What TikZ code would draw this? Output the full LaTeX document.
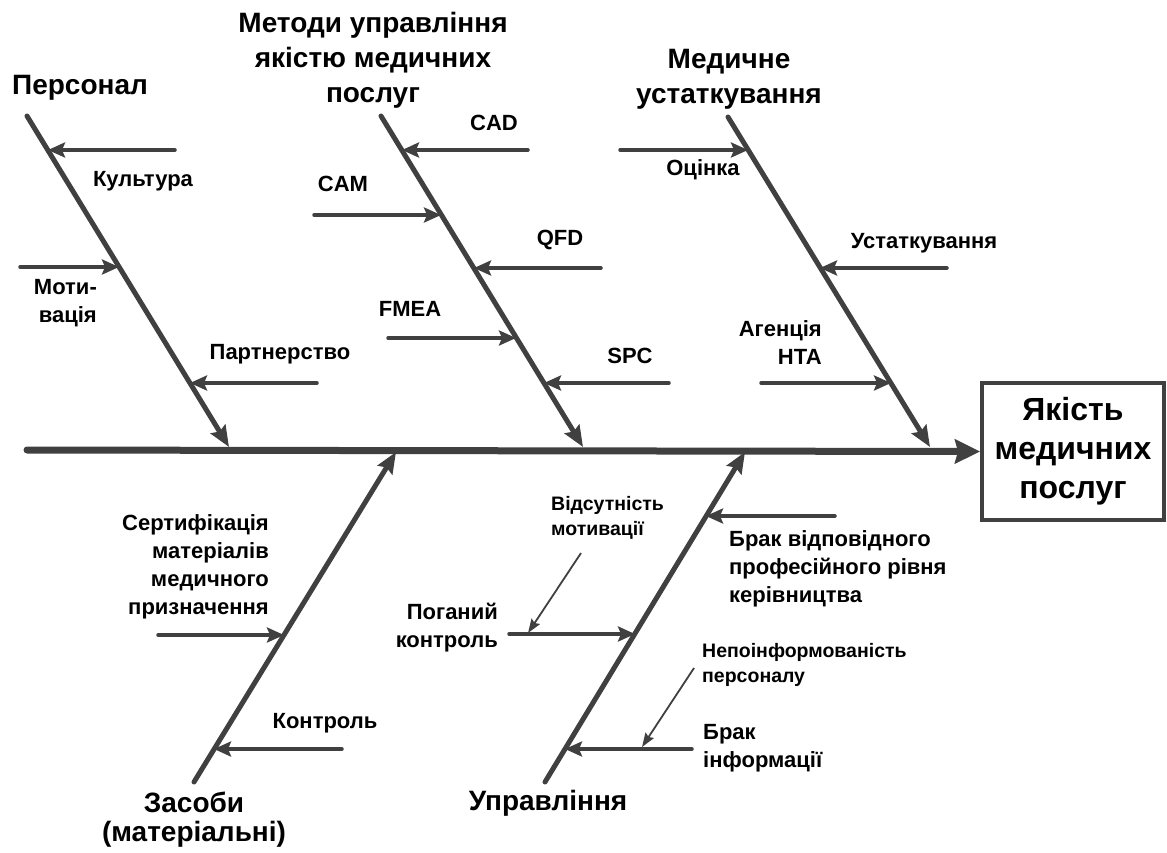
\documentclass[tikz,border=0pt]{standalone}
\usepackage{fontspec}
\setmainfont{Liberation Sans}
\usetikzlibrary{arrows.meta}
\definecolor{fishgray}{RGB}{64,64,64}

\begin{document}
\begin{tikzpicture}[x=1pt,y=-1pt,
	bone/.style={fishgray, line width=5pt, line cap=round, -{Stealth[length=21pt,width=17pt,inset=3pt]}},
	twig/.style={fishgray, line width=3.5pt, line cap=round, -{Stealth[length=17pt,width=15pt,inset=3pt]}},
	hint/.style={fishgray, line width=1.8pt, -{Stealth[length=14pt,width=10pt,inset=2pt]}},
	lbl/.style={font=\fontsize{22}{28}\selectfont\bfseries, inner sep=0pt},
	smalllbl/.style={font=\fontsize{19.5}{25}\selectfont\bfseries, inner sep=0pt},
	head/.style={font=\fontsize{28}{35}\selectfont\bfseries, inner sep=0pt, align=center}]
	\useasboundingbox (0,0) rectangle (1167,852);
	% effect and spine
	\node[draw=fishgray, line width=4pt, minimum width=182pt, minimum height=137pt, anchor=north west,
		align=center, font=\fontsize{32}{39}\selectfont\bfseries] (effect) at (980,381) {Якість\\медичних\\послуг};
	\coordinate (tail) at (27,450);
	\draw[fishgray, line width=7pt, line cap=round, -{Stealth[length=25pt,width=24pt,inset=3pt]}] (tail) -- (effect.west);
	% upper bones
	\coordinate (pers0) at (27,116);   \coordinate (pers1) at (229,447);
	\coordinate (meth0) at (381,116);  \coordinate (meth1) at (583,447);
	\coordinate (equip0) at (728,117); \coordinate (equip1) at (930,447);
	\draw[bone] (pers0) -- (pers1);
	\draw[bone] (meth0) -- (meth1);
	\draw[bone] (equip0) -- (equip1);
	% lower bones
	\coordinate (means0) at (194,782); \coordinate (means1) at (396,452);
	\coordinate (mgmt0) at (545,782);  \coordinate (mgmt1) at (745,452);
	\draw[bone] (means0) -- (means1);
	\draw[bone] (mgmt0) -- (mgmt1);
	% headings
	\node[head] (pers) at (80,88) {Персонал};
	\node[head] (meth) at (373,60) {Методи управління\\якістю медичних\\послуг};
	\node[head] (equip) at (729,79) {Медичне\\устаткування};
	\node[head, font=\fontsize{28}{29}\selectfont\bfseries] (means) at (194,820) {Засоби\\(матеріальні)};
	\node[head] (mgmt) at (548,803) {Управління};
	% personnel
	\coordinate (cult0) at (175,150);  \coordinate (cult1) at (48,150);
	\coordinate (motiv0) at (20,267);  \coordinate (motiv1) at (119,267);
	\coordinate (partn0) at (317,383); \coordinate (partn1) at (190,383);
	\draw[twig] (cult0) -- (cult1);
	\draw[twig] (motiv0) -- (motiv1);
	\draw[twig] (partn0) -- (partn1);
	\node[lbl] (cult) at (143,181) {Культура};
	\node[lbl, align=right, anchor=east] (motiv) at (97,303) {Моти-\\вація};
	\node[lbl] (partn) at (280,354) {Партнерство};
	% methods
	\coordinate (cad0) at (528,150);  \coordinate (cad1) at (402,150);
	\coordinate (cam0) at (314,215);  \coordinate (cam1) at (441,215);
	\coordinate (qfd0) at (601,268);  \coordinate (qfd1) at (474,268);
	\coordinate (fmea0) at (388,338); \coordinate (fmea1) at (516,338);
	\coordinate (spc0) at (669,383);  \coordinate (spc1) at (544,383);
	\draw[twig] (cad0) -- (cad1);
	\draw[twig] (cam0) -- (cam1);
	\draw[twig] (qfd0) -- (qfd1);
	\draw[twig] (fmea0) -- (fmea1);
	\draw[twig] (spc0) -- (spc1);
	\node[lbl] (cad) at (494,123) {CAD};
	\node[lbl] (cam) at (343,184) {CAM};
	\node[lbl] (qfd) at (560,240) {QFD};
	\node[lbl] (fmea) at (410,309) {FMEA};
	\node[lbl] (spc) at (630,356) {SPC};
	% equipment
	\coordinate (eval0) at (620,150);  \coordinate (eval1) at (748,150);
	\coordinate (inst0) at (947,268);  \coordinate (inst1) at (820,268);
	\coordinate (hta0) at (761,383);   \coordinate (hta1) at (891,383);
	\draw[twig] (eval0) -- (eval1);
	\draw[twig] (inst0) -- (inst1);
	\draw[twig] (hta0) -- (hta1);
	\node[lbl] (eval) at (703,170) {Оцінка};
	\node[lbl] (inst) at (924,243) {Устаткування};
	\node[lbl, align=right, anchor=east] (hta) at (822,343) {Агенція\\НТА};
	% means
	\coordinate (cert0) at (158,635); \coordinate (cert1) at (284,635);
	\coordinate (ctrl0) at (342,749); \coordinate (ctrl1) at (214,749);
	\draw[twig] (cert0) -- (cert1);
	\draw[twig] (ctrl0) -- (ctrl1);
	\node[lbl, align=right, anchor=east] (cert) at (269,567) {Сертифікація\\матеріалів\\медичного\\призначення};
	\node[lbl] (ctrl) at (325,723) {Контроль};
	% management
	\coordinate (lack0) at (835,516); \coordinate (lack1) at (706,516);
	\coordinate (poor0) at (509,634); \coordinate (poor1) at (635,634);
	\coordinate (info0) at (692,749); \coordinate (info1) at (565,749);
	\draw[twig] (lack0) -- (lack1);
	\draw[twig] (poor0) -- (poor1);
	\draw[twig] (info0) -- (info1);
	\node[lbl, align=left, anchor=west] (lack) at (729,569) {Брак відповідного\\професійного рівня\\керівництва};
	\node[lbl, align=right, anchor=east] (poor) at (498,628) {Поганий\\контроль};
	\node[lbl, align=left, anchor=west] (info) at (703,748) {Брак\\інформації};
	\node[smalllbl, align=left, anchor=west] (nomot) at (551,518) {Відсутність\\мотивації};
	\node[smalllbl, align=left, anchor=west] (uninf) at (702,665) {Непоінформованість\\персоналу};
	\coordinate (nomot0) at (581,553); \coordinate (nomot1) at (528,633);
	\coordinate (uninf0) at (694,668); \coordinate (uninf1) at (642,747);
	\draw[hint] (nomot0) -- (nomot1);
	\draw[hint] (uninf0) -- (uninf1);
\end{tikzpicture}
\end{document}
